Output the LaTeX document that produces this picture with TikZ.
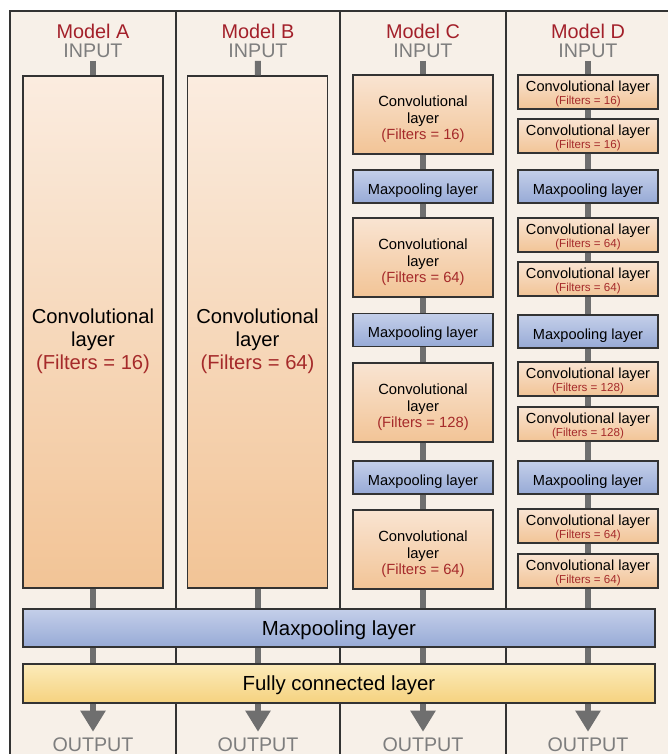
\documentclass[tikz,border=0pt]{standalone}
\usepackage{fontspec}
\setmainfont{Liberation Sans}
\usetikzlibrary{arrows.meta}

\definecolor{framebg}{HTML}{F7F0E8}
\definecolor{edge}{HTML}{333333}
\definecolor{titlered}{HTML}{A3202A}
\definecolor{filtred}{HTML}{A52A2A}
\definecolor{greytext}{HTML}{7E7E7E}
\definecolor{stemgrey}{HTML}{6F6F6F}
\definecolor{convtop}{HTML}{F9E4D2}
\definecolor{convbot}{HTML}{F2C496}
\definecolor{pooltop}{HTML}{C4CFE9}
\definecolor{poolbot}{HTML}{97AAD6}
\definecolor{fctop}{HTML}{FCEBBA}
\definecolor{fcbot}{HTML}{F5D27F}

\tikzset{
  box/.style={draw=edge, line width=0.8pt, align=center, inner sep=1pt, text depth=0pt},
  convbig/.style={box, top color=convtop!70!white, bottom color=convbot,
    minimum width=2.8cm, minimum height=10.24cm, text height=43pt,
    font=\fontsize{11.5}{13.3}\selectfont},
  convmid/.style={box, top color=convtop, bottom color=convbot,
    minimum width=2.8cm, minimum height=1.58cm, text height=29pt,
    font=\fontsize{8.4}{9.6}\selectfont},
  convsmall/.style={box, top color=convtop, bottom color=convbot,
    minimum width=2.8cm, minimum height=0.68cm, text height=14.5pt,
    font=\fontsize{8.3}{7.4}\selectfont},
  pool/.style={box, top color=pooltop, bottom color=poolbot,
    minimum width=2.8cm, minimum height=0.66cm, text height=9pt,
    font=\fontsize{8.3}{9}\selectfont},
  widepool/.style={box, top color=pooltop, bottom color=poolbot,
    minimum width=12.64cm, minimum height=0.76cm,
    font=\fontsize{11.6}{12}\selectfont},
  fc/.style={box, top color=fctop, bottom color=fcbot,
    minimum width=12.64cm, minimum height=0.78cm,
    font=\fontsize{11.6}{12}\selectfont},
  hdr/.style={text=titlered, font=\fontsize{11.3}{12}\selectfont, inner sep=0pt},
  inp/.style={text=greytext, font=\fontsize{11.2}{12}\selectfont, inner sep=1.5pt},
  stem/.style={draw=stemgrey, line width=0.12cm},
  outarr/.style={stem, -{Triangle[width=0.48cm, length=0.42cm]}, shorten >=3pt},
  divider/.style={draw=edge, line width=0.8pt}
}
\newcommand{\filt}[1]{{\color{filtred}(Filters = #1)}}
\newcommand{\filtsm}[1]{{\fontsize{6.6}{7.4}\selectfont\color{filtred}(Filters = #1)}}

\begin{document}
\begin{tikzpicture}[x=0.02cm, y=-0.02cm]

  \useasboundingbox (0,0) rectangle (668,754);
  \clip (0,0) rectangle (668,754);

  % frame and column dividers
  \fill[white] (0,0) rectangle (668,754);
  \filldraw[fill=framebg, draw=edge, line width=1pt] (10,11) rectangle (700,800);
  \foreach \x in {176,340,506}
    \draw[divider] (\x,11) -- (\x,800);

  % headers
  \node[hdr] (hA) at (93,31) {Model A};
  \node[hdr] (hB) at (258,31) {Model B};
  \node[hdr] (hC) at (423,31) {Model C};
  \node[hdr] (hD) at (588,31) {Model D};
  \node[inp] (inA) at (93,51) {INPUT};
  \node[inp] (inB) at (258,51) {INPUT};
  \node[inp] (inC) at (423,51) {INPUT};
  \node[inp] (inD) at (588,51) {INPUT};

  % model A and B
  \node[convbig] (a1) at (93,332) {Convolutional\\layer\\\filt{16}};
  \node[convbig] (b1) at (257.5,332) {Convolutional\\layer\\\filt{64}};

  % model C
  \node[convmid] (c1) at (423,114.5) {Convolutional\\layer\\\filt{16}};
  \node[pool] (c2) at (423,186.5) {Maxpooling layer};
  \node[convmid] (c3) at (423,257.5) {Convolutional\\layer\\\filt{64}};
  \node[pool] (c4) at (423,330) {Maxpooling layer};
  \node[convmid] (c5) at (423,402.5) {Convolutional\\layer\\\filt{128}};
  \node[pool] (c6) at (423,477.5) {Maxpooling layer};
  \node[convmid] (c7) at (423,549.5) {Convolutional\\layer\\\filt{64}};

  % model D
  \node[convsmall] (d1) at (588,92) {Convolutional layer\\\filtsm{16}};
  \node[convsmall] (d2) at (588,136) {Convolutional layer\\\filtsm{16}};
  \node[pool] (d3) at (588,186.5) {Maxpooling layer};
  \node[convsmall] (d4) at (588,235) {Convolutional layer\\\filtsm{64}};
  \node[convsmall] (d5) at (588,279) {Convolutional layer\\\filtsm{64}};
  \node[pool] (d6) at (588,331.5) {Maxpooling layer};
  \node[convsmall] (d7) at (588,379) {Convolutional layer\\\filtsm{128}};
  \node[convsmall] (d8) at (588,424) {Convolutional layer\\\filtsm{128}};
  \node[pool] (d9) at (588,477.5) {Maxpooling layer};
  \node[convsmall] (d10) at (588,526) {Convolutional layer\\\filtsm{64}};
  \node[convsmall] (d11) at (588,571) {Convolutional layer\\\filtsm{64}};

  % shared layers
  \node[widepool] (pool) at (339,628) {Maxpooling layer};
  \node[fc] (fc) at (339,683.5) {Fully connected layer};

  \node[inp, inner sep=0pt, anchor=north] (outA) at (93,737) {OUTPUT};
  \node[inp, inner sep=0pt, anchor=north] (outB) at (258,737) {OUTPUT};
  \node[inp, inner sep=0pt, anchor=north] (outC) at (423,737) {OUTPUT};
  \node[inp, inner sep=0pt, anchor=north] (outD) at (588,737) {OUTPUT};

  % connectors
  \foreach \a/\b in {inA/a1, inB/b1, inC/c1, c1/c2, c2/c3, c3/c4, c4/c5, c5/c6, c6/c7,
      inD/d1, d1/d2, d2/d3, d3/d4, d4/d5, d5/d6, d6/d7, d7/d8, d8/d9, d9/d10, d10/d11}
    \draw[stem] (\a) -- (\b);
  \foreach \l in {a1, b1, c7, d11}
    \draw[stem] (\l.south) -- (\l.south |- pool.north);
  \foreach \o in {outA, outB, outC, outD} {
    \draw[stem] (pool.south -| \o.north) -- (fc.north -| \o.north);
    \draw[outarr] (fc.south -| \o.north) -- (\o.north);
  }

\end{tikzpicture}
\end{document}
